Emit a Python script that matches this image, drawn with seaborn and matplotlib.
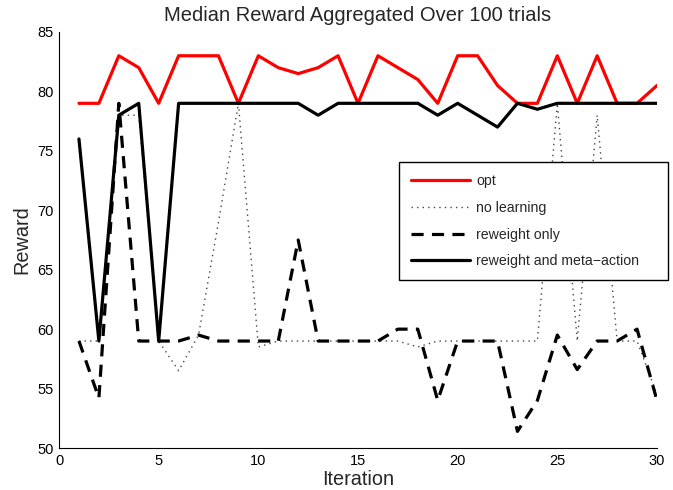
import matplotlib
matplotlib.use("Agg")
import matplotlib.pyplot as plt
import seaborn as sns
import pandas as pd

iterations = list(range(1, 31))
opt = [79, 79, 83, 82, 79, 83, 83, 83, 79, 83, 82, 81.5, 82, 83, 79,
       83, 82, 81, 79, 83, 83, 80.5, 79, 79, 83, 79, 83, 79, 79, 80.5]
no_learning = [59, 59, 78, 78, 59, 56.5, 59.5, 69, 79, 58.5, 59, 59, 59, 59, 59,
               59, 59, 58.5, 59, 59, 59, 59, 59, 59, 79, 59, 78, 59, 59, 54.5]
reweight_only = [59, 54.2, 79, 59, 59, 59, 59.5, 59, 59, 59, 59, 67.5, 59, 59, 59,
                 59, 60, 60, 54, 59, 59, 59, 51.4, 54, 59.5, 56.6, 59, 59, 60, 54]
reweight_meta = [76, 59, 78, 79, 59, 79, 79, 79, 79, 79, 79, 79, 78, 79, 79,
                 79, 79, 79, 78, 79, 78, 77, 79, 78.5, 79, 79, 79, 79, 79, 79]
labels = ["opt", "no learning", "reweight only", "reweight and meta\u2212action"]
xticks = [0, 5, 10, 15, 20, 25, 30]
yticks = [50, 55, 60, 65, 70, 75, 80, 85]

sns.set_style("white")
plt.rcParams['font.family'] = ['Liberation Sans', 'DejaVu Sans']

fig = plt.figure(figsize=(6.73, 4.90), dpi=100)
ax = fig.add_axes([0.0877, 0.0857, 0.8885, 0.849])

series = [opt, no_learning, reweight_only, reweight_meta]
styles = [
    dict(color="#ff0000", lw=2.3, ls="-"),
    dict(color="#444444", lw=1.0, ls=(0, (1, 3))),
    dict(color="black", lw=2.3, ls=(0, (3.8, 2.6))),
    dict(color="black", lw=2.3, ls="-"),
]
for vals, lab, st in zip(series, labels, styles):
    df = pd.DataFrame({"Iteration": iterations, "Reward": vals})
    sns.lineplot(data=df, x="Iteration", y="Reward", ax=ax, label=lab,
                 color=st["color"], linewidth=st["lw"], linestyle=st["ls"])

ax.set_xlim(0, 30)
ax.set_ylim(50, 85)
ax.set_xticks(xticks)
ax.set_yticks(yticks)
ax.tick_params(direction="in", length=5, width=0.8, labelsize=10.5, colors="black", pad=4)
for s in ["top", "right"]:
    ax.spines[s].set_visible(False)
for s in ["left", "bottom"]:
    ax.spines[s].set_color("black")
    ax.spines[s].set_linewidth(0.8)

ax.set_title("Median Reward Aggregated Over 100 trials", fontsize=14.5, pad=8)
ax.set_xlabel("Iteration", fontsize=14.3, labelpad=2)
ax.set_ylabel("Reward", fontsize=14.3, labelpad=4)

leg = ax.legend(loc="upper left", bbox_to_anchor=(0.5686, 0.0, 0.4498, 0.6875),
                mode="expand", borderaxespad=0,
                fontsize=10.2, handlelength=4.16, handletextpad=0.42, labelspacing=0.9,
                borderpad=0.85, fancybox=False, frameon=True)
leg.get_frame().set_edgecolor("black")
leg.get_frame().set_linewidth(1.0)
leg.get_frame().set_alpha(1)

fig.savefig("out.png", dpi=100)
